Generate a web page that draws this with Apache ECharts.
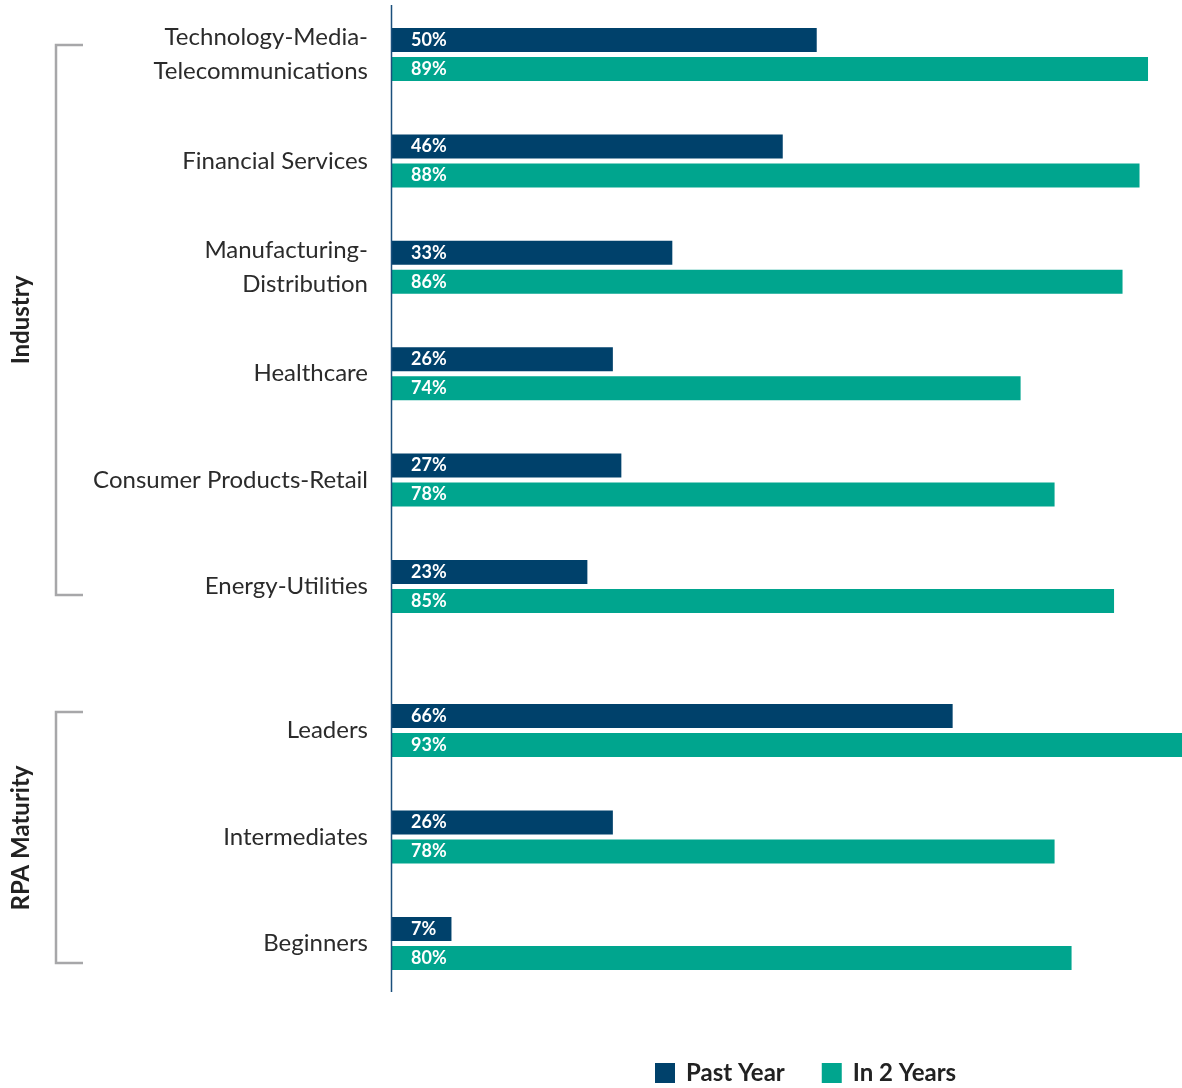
<!DOCTYPE html>
<html>
<head>
<meta charset="utf-8">
<title>RPA adoption by industry and maturity</title>
<script src="https://cdn.jsdelivr.net/npm/echarts@6/dist/echarts.min.js"></script>
<style>
  html, body { margin: 0; padding: 0; background: #ffffff; }
  #chart { width: 1182px; height: 1088px; }
</style>
</head>
<body>
<div id="chart"></div>
<script>
// Industry group
const industryCategories = [
  'Technology-Media-\nTelecommunications',
  'Financial Services',
  'Manufacturing-\nDistribution',
  'Healthcare',
  'Consumer Products-Retail',
  'Energy-Utilities'
];
const industryPastYear = [50, 46, 33, 26, 27, 23];
const industryIn2Years = [89, 88, 86, 74, 78, 85];

// RPA maturity group
const maturityCategories = ['Leaders', 'Intermediates', 'Beginners'];
const maturityPastYear = [66, 26, 7];
const maturityIn2Years = [93, 78, 80];

const seriesNames = ['Past Year', 'In 2 Years'];
const groupTitles = ['Industry', 'RPA Maturity'];

const NAVY = '#00416b';
const TEAL = '#00a58e';
const FONT = 'Lato, "Open Sans", sans-serif';

const chart = echarts.init(document.getElementById('chart'));

const valueLabel = {
  show: true,
  position: 'insideLeft',
  distance: 19,
  formatter: '{c}%',
  color: '#ffffff',
  fontFamily: FONT,
  fontWeight: 'bold',
  fontSize: 18
};

// the longest bar (93%) runs to the right edge of the page
function xAxisFor(idx) {
  return {
    gridIndex: idx, type: 'value', min: 0, max: 93, show: false
  };
}
function yAxisFor(idx, cats) {
  return {
    gridIndex: idx, type: 'category', data: cats, inverse: true,
    axisLine: { show: false }, axisTick: { show: false }, splitLine: { show: false },
    axisLabel: {
      margin: 24, color: '#2b2b2b', fontFamily: FONT, fontSize: 24, lineHeight: 34, align: 'right',
      padding: [4, 0, 0, 0]
    }
  };
}
function barSeries(name, color, axisIdx, values) {
  return {
    name: name, type: 'bar', xAxisIndex: axisIdx, yAxisIndex: axisIdx,
    data: values, barWidth: 24, barGap: '21%',
    itemStyle: { color: color },
    label: valueLabel, silent: true
  };
}

const bracketStyle = { stroke: '#a7a7a9', lineWidth: 2.5, fill: null };
const groupTitleStyle = {
  fill: '#222222', font: 'bold 24px ' + FONT, textAlign: 'center', textVerticalAlign: 'middle'
};

chart.setOption({
  animation: false,
  textStyle: { fontFamily: FONT },
  grid: [
    { left: 392, right: 0, top: 1.3, height: 638.4 },
    { left: 392, right: 0, top: 677.3, height: 319.5 }
  ],
  xAxis: [xAxisFor(0), xAxisFor(1)],
  yAxis: [yAxisFor(0, industryCategories), yAxisFor(1, maturityCategories)],
  legend: {
    data: seriesNames,
    left: 655, top: 1061, padding: 0,
    itemWidth: 20, itemHeight: 20, itemGap: 37,
    icon: 'rect',
    selectedMode: false,
    textStyle: { fontFamily: FONT, fontSize: 24, fontWeight: 'bold', color: '#222222', padding: [0, 0, 0, 6] }
  },
  series: [
    barSeries(seriesNames[0], NAVY, 0, industryPastYear),
    barSeries(seriesNames[1], TEAL, 0, industryIn2Years),
    barSeries(seriesNames[0], NAVY, 1, maturityPastYear),
    barSeries(seriesNames[1], TEAL, 1, maturityIn2Years)
  ],
  graphic: [
    // continuous baseline shared by both groups
    { type: 'line', shape: { x1: 391.5, y1: 5, x2: 391.5, y2: 992 },
      style: { stroke: '#1b4f7c', lineWidth: 1.5 }, z: 10 },
    // group brackets
    { type: 'polyline', shape: { points: [[83, 45], [56, 45], [56, 595], [83, 595]] }, style: bracketStyle },
    { type: 'polyline', shape: { points: [[83, 712], [56, 712], [56, 963], [83, 963]] }, style: bracketStyle },
    // group titles
    { type: 'text', x: 21, y: 320, rotation: Math.PI / 2, style: Object.assign({ text: groupTitles[0] }, groupTitleStyle) },
    { type: 'text', x: 21, y: 838, rotation: Math.PI / 2, style: Object.assign({ text: groupTitles[1] }, groupTitleStyle) }
  ]
});
</script>
</body>
</html>
